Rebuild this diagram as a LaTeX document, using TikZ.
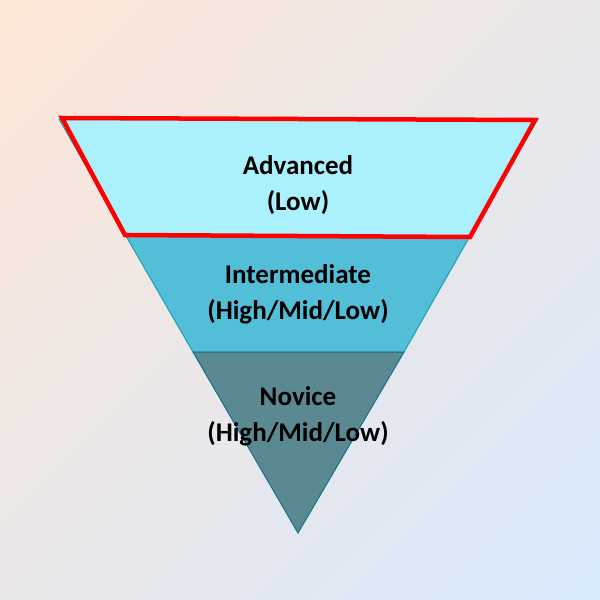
\documentclass[tikz,border=0pt]{standalone}
\usepackage{fontspec}
\setmainfont{Carlito}
\usetikzlibrary{shadings}
\definecolor{bgA}{HTML}{FFE6D6}
\definecolor{bgB}{HTML}{D6E8FC}
\definecolor{bgM}{HTML}{EAE7E9}
\definecolor{topfill}{HTML}{AAF0FD}
\definecolor{midfill}{HTML}{52BED8}
\definecolor{lowfill}{HTML}{5A8992}
\definecolor{edgeA}{HTML}{1A9DB8}
\definecolor{edgeB}{HTML}{0E7386}
\tikzset{
  band/.style={draw=edgeA, line width=1pt, line join=miter},
  lbl/.style={font=\bfseries\fontsize{27}{36}\selectfont, align=center, text=black, inner sep=0pt},
  hilite/.style={draw=red, line width=4.5pt, line join=miter}
}
\begin{document}
\begin{tikzpicture}[x=1pt,y=-1pt]
\useasboundingbox (0,0) rectangle (600,600);
\shade[upper left=bgA, lower right=bgB, upper right=bgM, lower left=bgM] (0,0) rectangle (600,600);
% bands
\coordinate (tl) at (59,119);
\coordinate (tr) at (538,119);
\coordinate (ml) at (126,236);
\coordinate (mr) at (470,236);
\coordinate (bl) at (193,352);
\coordinate (br) at (404,352);
\coordinate (apex) at (298,533);
\draw[band, fill=topfill] (tl) -- (tr) -- (mr) -- (ml) -- cycle;
\draw[band, fill=midfill] (ml) -- (mr) -- (br) -- (bl) -- cycle;
\draw[band, draw=edgeB, fill=lowfill] (bl) -- (br) -- (apex) -- cycle;
% red highlight
\coordinate (r1) at (62,118);
\coordinate (r2) at (535,120);
\coordinate (r3) at (470,237);
\coordinate (r4) at (125,235);
\draw[hilite] (r1) -- (r2) -- (r3) -- (r4) -- cycle;
% labels
\node[lbl] (adv) at (298,185) {Advanced\\(Low)};
\node[lbl] (int) at (298,294) {Intermediate\\(High/Mid/Low)};
\node[lbl] (nov) at (298,416) {Novice\\(High/Mid/Low)};
\end{tikzpicture}
\end{document}
